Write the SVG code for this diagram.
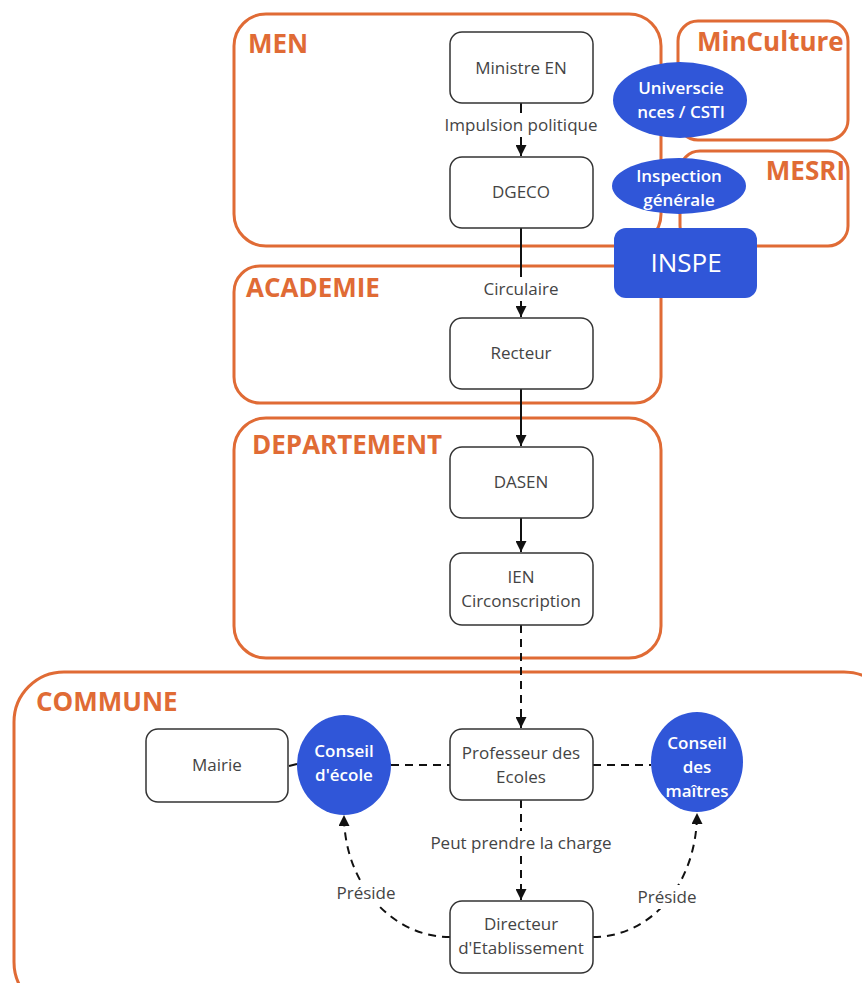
<svg xmlns="http://www.w3.org/2000/svg" width="862" height="983" viewBox="0 0 862 983">
<style>
.zone{fill:#fff;stroke:#E06B35;stroke-width:3}
.zl{font-family:"Open Sans","Liberation Sans",sans-serif;font-weight:bold;font-size:26px;fill:#E06B35}
.box{fill:#fff;stroke:#333;stroke-width:1.5}
.t{font-family:"Open Sans","Liberation Sans",sans-serif;font-size:17px;fill:#444;text-anchor:middle}
.w{font-family:"Open Sans","Liberation Sans",sans-serif;font-size:17px;font-weight:600;fill:#fff;text-anchor:middle}
.blue{fill:#3056D8}
.solid{fill:none;stroke:#111;stroke-width:2}
.dash{fill:none;stroke:#111;stroke-width:2;stroke-dasharray:8 6}
.lb{fill:#fff}
</style>
<defs>
<marker id="a" viewBox="0 0 10 10" refX="10" refY="5" markerWidth="13" markerHeight="11" orient="auto" markerUnits="userSpaceOnUse">
<path d="M0,0 L10,5 L0,10 z" fill="#111"/>
</marker>
</defs>

<g id="zones">
<g id="zone-men"><rect class="zone" x="234" y="14" width="427" height="232" rx="32"/><text class="zl" x="248" y="53">MEN</text></g>
<g id="zone-minculture"><rect class="zone" x="678" y="21" width="170" height="119" rx="20"/><text class="zl" x="697" y="51">MinCulture</text></g>
<g id="zone-mesri"><rect class="zone" x="680" y="151" width="168" height="95" rx="20"/><text class="zl" x="845" y="180" text-anchor="end">MESRI</text></g>
<g id="zone-academie"><rect class="zone" x="234" y="266" width="427" height="137" rx="26"/><text class="zl" x="246" y="297">ACADEMIE</text></g>
<g id="zone-departement"><rect class="zone" x="234" y="418" width="427" height="240" rx="32"/><text class="zl" x="252" y="454">DEPARTEMENT</text></g>
<g id="zone-commune"><rect class="zone" x="14" y="672" width="880" height="340" rx="50"/><text class="zl" x="36" y="711">COMMUNE</text></g>
</g>

<g id="connectors">
<line class="solid" x1="521" y1="103" x2="521" y2="156" marker-end="url(#a)"/>
<line class="solid" x1="521" y1="228" x2="521" y2="317" marker-end="url(#a)"/>
<line class="solid" x1="521" y1="389" x2="521" y2="446" marker-end="url(#a)"/>
<line class="solid" x1="521" y1="518" x2="521" y2="552" marker-end="url(#a)"/>
<line class="dash" x1="521" y1="625" x2="521" y2="728" marker-end="url(#a)"/>
<line class="dash" x1="521" y1="800" x2="521" y2="900" marker-end="url(#a)"/>
<line class="dash" x1="391" y1="765" x2="450" y2="765"/>
<line class="dash" x1="593" y1="765" x2="651" y2="765"/>
<line class="solid" x1="297" y1="764" x2="289" y2="766" stroke-width="1.2"/>
<path class="dash" d="M450,937 C392,937 344,884 344,815" marker-end="url(#a)"/>
<path class="dash" d="M593,937 C651,937 697,884 697,813" marker-end="url(#a)"/>
<rect class="lb" x="440" y="113" width="162" height="24"/>
<text class="t" x="521" y="131">Impulsion politique</text>
<rect class="lb" x="478" y="277" width="86" height="24"/>
<text class="t" x="521" y="295">Circulaire</text>
<rect class="lb" x="424" y="831" width="194" height="24"/>
<text class="t" x="521" y="849">Peut prendre la charge</text>
<rect class="lb" x="332" y="881" width="68" height="24"/>
<text class="t" x="366" y="899">Préside</text>
<rect class="lb" x="633" y="885" width="68" height="24"/>
<text class="t" x="667" y="903">Préside</text>
</g>

<g id="node-ministre"><rect class="box" x="450" y="32" width="143" height="71" rx="12"/><text class="t" x="521" y="74">Ministre EN</text></g>
<g id="node-dgeco"><rect class="box" x="450" y="157" width="143" height="71" rx="12"/><text class="t" x="521" y="198">DGECO</text></g>
<g id="node-recteur"><rect class="box" x="450" y="318" width="143" height="71" rx="12"/><text class="t" x="521" y="359">Recteur</text></g>
<g id="node-dasen"><rect class="box" x="450" y="447" width="143" height="71" rx="12"/><text class="t" x="521" y="488">DASEN</text></g>
<g id="node-ien"><rect class="box" x="450" y="553" width="143" height="72" rx="12"/><text class="t" x="521" y="583">IEN</text><text class="t" x="521" y="607">Circonscription</text></g>
<g id="node-prof"><rect class="box" x="450" y="729" width="143" height="71" rx="12"/><text class="t" x="521" y="759">Professeur des</text><text class="t" x="521" y="783">Ecoles</text></g>
<g id="node-mairie"><rect class="box" x="146" y="729" width="142" height="73" rx="12"/><text class="t" x="217" y="771">Mairie</text></g>
<g id="node-directeur"><rect class="box" x="450" y="901" width="143" height="72" rx="12"/><text class="t" x="521" y="930">Directeur</text><text class="t" x="521" y="954">d'Etablissement</text></g>

<g id="node-universciences"><ellipse class="blue" cx="680" cy="100" rx="67" ry="38"/><text class="w" x="681" y="94">Universcie</text><text class="w" x="681" y="118">nces / CSTI</text></g>
<g id="node-inspection"><ellipse class="blue" cx="679" cy="186" rx="67" ry="28"/><text class="w" x="679" y="182">Inspection</text><text class="w" x="679" y="206">générale</text></g>
<g id="node-inspe"><rect class="blue" x="614" y="228" width="143" height="70" rx="12"/><text class="w" x="686" y="272" style="font-size:26px;font-weight:normal">INSPE</text></g>
<g id="node-conseil-ecole"><ellipse class="blue" cx="344" cy="765" rx="47" ry="50"/><text class="w" x="344" y="757">Conseil</text><text class="w" x="344" y="781">d'école</text></g>
<g id="node-conseil-maitres"><ellipse class="blue" cx="697" cy="762" rx="46" ry="50"/><text class="w" x="697" y="749">Conseil</text><text class="w" x="697" y="773">des</text><text class="w" x="697" y="797">maîtres</text></g>
</svg>
